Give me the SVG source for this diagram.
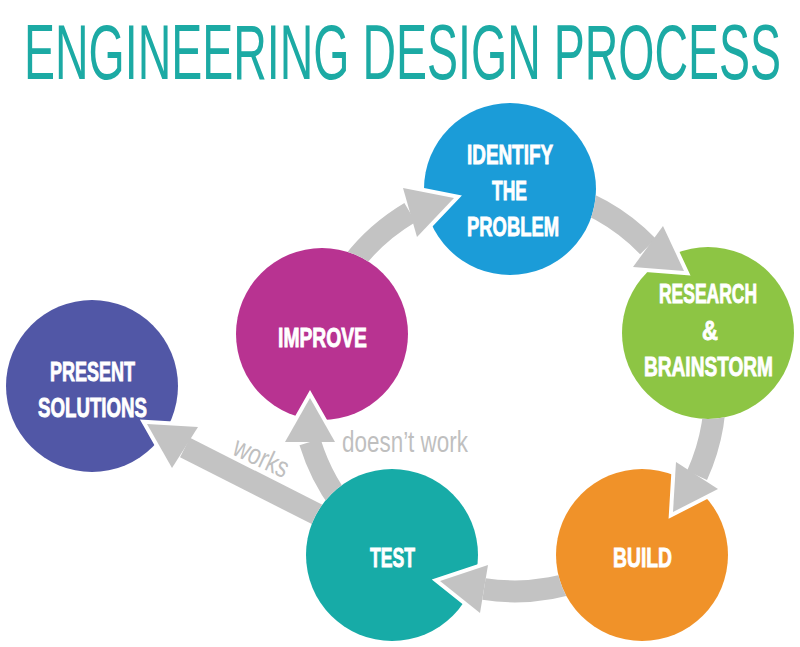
<svg xmlns="http://www.w3.org/2000/svg" width="800" height="647" viewBox="0 0 800 647">
<defs>
<style>
.title{font-family:"Liberation Sans",Arial,sans-serif;font-size:78px;fill:#1caaa4}
.node text{font-family:"Liberation Sans",Arial,sans-serif;font-weight:bold;font-size:28px;fill:#ffffff;stroke:#ffffff;stroke-width:0.9px;text-anchor:middle}
.shaft{fill:none;stroke:#c3c3c3;stroke-width:22}
.head{fill:#c3c3c3}
.rim{fill:none;stroke:#ffffff;stroke-width:8;stroke-linejoin:miter;stroke-miterlimit:10}
.lbl{font-family:"Liberation Sans",Arial,sans-serif;font-size:29px;fill:#bfbfbf}
</style>
<mask id="nodemask" maskUnits="userSpaceOnUse" x="0" y="0" width="800" height="647">
<rect width="800" height="647" fill="#fff"/>
<circle cx="510" cy="189" r="86" fill="#000"/>
<circle cx="708" cy="333" r="86" fill="#000"/>
<circle cx="642" cy="555" r="86" fill="#000"/>
<circle cx="392" cy="555" r="86" fill="#000"/>
<circle cx="322" cy="334" r="86" fill="#000"/>
<circle cx="92" cy="386" r="86" fill="#000"/>
</mask>
</defs>
<rect width="800" height="647" fill="#ffffff"/>
<text class="title" transform="translate(24,79) scale(0.6,1)" x="0" y="0" textLength="1261.7" lengthAdjust="spacingAndGlyphs">ENGINEERING DESIGN PROCESS</text>

<g id="identify" class="node">
<circle cx="510" cy="189" r="86" fill="#1b9cd8"/>
<text transform="translate(510,164) scale(0.66,1)" textLength="130.3" lengthAdjust="spacingAndGlyphs">IDENTIFY</text>
<text transform="translate(509.5,200) scale(0.66,1)" textLength="53" lengthAdjust="spacingAndGlyphs">THE</text>
<text transform="translate(513,236) scale(0.66,1)" textLength="139.4" lengthAdjust="spacingAndGlyphs">PROBLEM</text>
</g>
<g id="research" class="node">
<circle cx="708" cy="333" r="86" fill="#8dc544"/>
<text transform="translate(708,303) scale(0.66,1)" textLength="148.5" lengthAdjust="spacingAndGlyphs">RESEARCH</text>
<text transform="translate(710,340) scale(0.66,1)" textLength="24.2" lengthAdjust="spacingAndGlyphs">&amp;</text>
<text transform="translate(708.5,376) scale(0.66,1)" textLength="195.5" lengthAdjust="spacingAndGlyphs">BRAINSTORM</text>
</g>
<g id="build" class="node">
<circle cx="642" cy="555" r="86" fill="#f09229"/>
<text transform="translate(642.5,567) scale(0.66,1)" textLength="89.4" lengthAdjust="spacingAndGlyphs">BUILD</text>
</g>
<g id="test" class="node">
<circle cx="392" cy="555" r="86" fill="#17aba7"/>
<text transform="translate(392.5,567) scale(0.66,1)" textLength="68.2" lengthAdjust="spacingAndGlyphs">TEST</text>
</g>
<g id="improve" class="node">
<circle cx="322" cy="334" r="86" fill="#b83391"/>
<text transform="translate(322.5,347) scale(0.66,1)" textLength="134.8" lengthAdjust="spacingAndGlyphs">IMPROVE</text>
</g>
<g id="present" class="node">
<circle cx="92" cy="386" r="86" fill="#5157a6"/>
<text transform="translate(92.5,381) scale(0.66,1)" textLength="128.8" lengthAdjust="spacingAndGlyphs">PRESENT</text>
<text transform="translate(92.5,417) scale(0.66,1)" textLength="165.2" lengthAdjust="spacingAndGlyphs">SOLUTIONS</text>
</g>

<g id="connectors">
<g mask="url(#nodemask)">
<path class="shaft" d="M336.2,288.5 A203,203 0 0 1 410,212.5"/>
<path class="shaft" d="M547.3,190.1 A203,203 0 0 1 648,246.5"/>
<path class="shaft" d="M714.2,372.3 A203,203 0 0 1 697,475.5"/>
<path class="shaft" d="M613.5,565.8 A203,203 0 0 1 484,589"/>
<path class="shaft" d="M368.5,533.5 A203,203 0 0 1 310,442"/>
<path class="shaft" d="M340,526 L185,447.5"/>
</g>
<polyline class="rim" points="403,188 454,198 417,237"/>
<polygon class="head" points="403,188 454,198 417,237"/>
<polyline class="rim" points="663,226 684,271 633,267"/>
<polygon class="head" points="663,226 684,271 633,267"/>
<polyline class="rim" points="718,489 673,512 676,462"/>
<polygon class="head" points="718,489 673,512 676,462"/>
<polyline class="rim" points="480,613 440,581 488,565"/>
<polygon class="head" points="480,613 440,581 488,565"/>
<polyline class="rim" points="335,442 310,398 285,442"/>
<polygon class="head" points="335,442 310,398 285,442"/>
<polyline class="rim" points="172,468 147,424 198,427"/>
<polygon class="head" points="172,468 147,424 198,427"/>
</g>

<g id="labels">
<text class="lbl" transform="translate(342,452) scale(0.77,1)" textLength="163.6" lengthAdjust="spacingAndGlyphs">doesn’t work</text>
<text class="lbl" transform="translate(231,454) rotate(25) scale(0.77,1)" textLength="75.3" lengthAdjust="spacingAndGlyphs">works</text>
</g>
</svg>
